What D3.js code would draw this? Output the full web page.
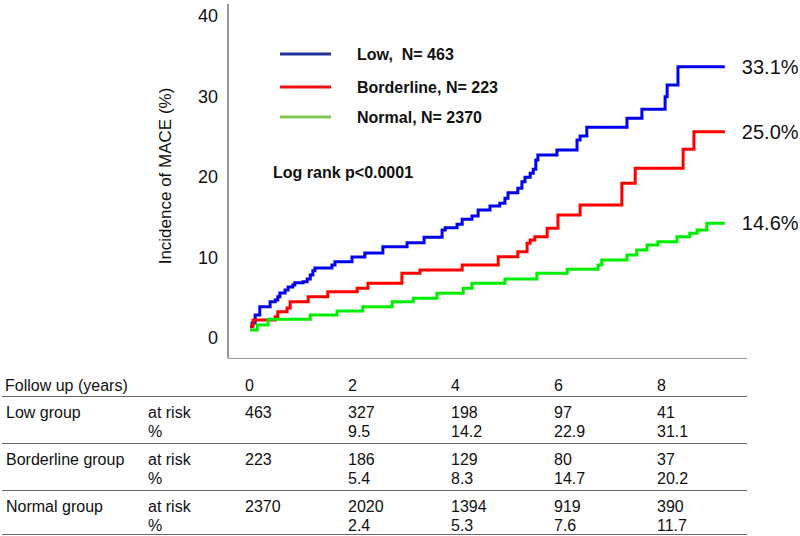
<!DOCTYPE html>
<html>
<head>
<meta charset="utf-8">
<script src="https://cdn.jsdelivr.net/npm/d3@7"></script>
<style>
  body { margin: 0; background: #fff; }
  svg { display: block; font-family: "Liberation Sans", Arial, sans-serif; }
</style>
</head>
<body>
<div id="chart"></div>
<script>
// cumulative incidence step curves: [year, %]
const lowCurve = [[0,1.4],[0.04,1.86],[0.1,2.86],[0.19,3.89],[0.39,4.51],[0.49,4.72],[0.54,5.13],[0.58,5.59],
  [0.68,5.96],[0.74,6.34],[0.83,6.58],[0.87,6.87],[1.03,6.99],[1.11,7.33],[1.17,7.83],[1.22,8.36],[1.26,8.7],
  [1.59,9.07],[1.65,9.48],[1.98,10.06],[2.23,10.56],[2.58,11.34],[3.05,11.84],[3.38,12.51],[3.73,13.42],
  [3.79,13.7],[4.02,14.12],[4.12,14.75],[4.31,15.16],[4.43,15.9],[4.66,16.4],[4.85,16.73],[4.95,17.35],
  [5.01,18.05],[5.2,18.6],[5.28,19.42],[5.34,19.96],[5.44,20.46],[5.5,20.96],[5.55,22.11],[5.59,22.73],
  [5.96,23.35],[6.35,24.6],[6.41,25.09],[6.54,26.17],[7.32,27.29],[7.61,28.41],[8.06,29.98],[8.1,31.43],
  [8.31,33.7]];
const borderlineCurve = [[0,1.49],[0.06,2.24],[0.49,2.65],[0.54,3.27],[0.72,3.73],[0.78,4.51],[1.13,5.13],
  [1.51,5.75],[2.08,6.17],[2.29,6.8],[2.95,8.04],[3.3,8.45],[4.12,9.07],[4.82,10.1],[5.2,10.72],[5.38,11.76],
  [5.44,12.17],[5.53,12.58],[5.77,13.63],[5.98,15.28],[6.41,16.52],[7.22,19.22],[7.48,21.08],[8.41,23.44],
  [8.62,25.63]];
const normalCurve = [[0,1.0],[0.14,1.61],[0.35,2.32],[1.17,2.86],[1.69,3.35],[2.19,3.89],[2.76,4.51],
  [3.17,4.93],[3.63,5.55],[4.14,6.17],[4.31,6.8],[4.95,7.33],[5.57,8.04],[6.16,8.53],[6.76,9.07],[6.83,9.69],
  [7.32,10.31],[7.51,10.93],[7.71,11.55],[7.92,11.96],[8.29,12.58],[8.54,13.01],[8.68,13.42],[8.87,14.25]];
const endYear = 9.22;

const seriesNames = ["Low,  N= 463", "Borderline, N= 223", "Normal, N= 2370"];
const finalLabels = ["33.1%", "25.0%", "14.6%"];
const yTicks = [0, 10, 20, 30, 40];

// number-at-risk table
const followYears = [0, 2, 4, 6, 8];
const tableGroups = ["Low group", "Borderline group", "Normal group"];
const lowAtRisk = [463, 327, 198, 97, 41];
const lowPct = ["", "9.5", "14.2", "22.9", "31.1"];
const borderlineAtRisk = [223, 186, 129, 80, 37];
const borderlinePct = ["", "5.4", "8.3", "14.7", "20.2"];
const normalAtRisk = [2370, 2020, 1394, 919, 390];
const normalPct = ["", "2.4", "5.3", "7.6", "11.7"];

const curveColors = ["#0000ee", "#ff0000", "#00ee00"];
const legendColors = ["#1f3399", "#ee1111", "#80c850"];

const W = 800, H = 536;
const svg = d3.select("#chart").append("svg").attr("width", W).attr("height", H);

const x = d3.scaleLinear().domain([0, 10]).range([250, 765]);
const y = d3.scaleLinear().domain([0, 40]).range([338, 16]);

// y axis
svg.append("line").attr("x1", 228).attr("x2", 228).attr("y1", 4).attr("y2", 358)
  .attr("stroke", "#333").attr("stroke-width", 1);
svg.append("line").attr("x1", 228).attr("x2", 747).attr("y1", 358.5).attr("y2", 358.5)
  .attr("stroke", "#999").attr("stroke-width", 1);

const yAxis = svg.append("g").attr("transform", "translate(228,0)")
  .call(d3.axisLeft(y).tickValues(yTicks).tickSize(0).tickPadding(10));
yAxis.select(".domain").remove();
yAxis.selectAll("text").attr("font-size", 18).attr("font-family", "Liberation Sans, Arial, sans-serif").attr("fill", "#111");

svg.append("text")
  .attr("transform", "translate(165,176) rotate(-90)")
  .attr("text-anchor", "middle").attr("dominant-baseline", "central")
  .attr("font-size", 17).attr("fill", "#111")
  .text("Incidence of MACE (%)");

// curves
const line = d3.line().curve(d3.curveStepAfter).x(d => x(d[0])).y(d => y(d[1]));
const curves = [lowCurve, borderlineCurve, normalCurve];
curves.forEach((c, i) => {
  const pts = c.concat([[endYear, c[c.length - 1][1]]]);
  svg.append("path").datum(pts).attr("d", line)
    .attr("fill", "none").attr("stroke", curveColors[i]).attr("stroke-width", 3)
    .attr("stroke-linejoin", "miter");
  svg.append("text")
    .attr("x", x(endYear) + 17).attr("y", y(c[c.length - 1][1]))
    .attr("dominant-baseline", "central").attr("font-size", 20).attr("fill", "#111")
    .text(finalLabels[i]);
});

// legend
const legendY = [54, 87, 117];
seriesNames.forEach((s, i) => {
  svg.append("line").attr("x1", 280).attr("x2", 331).attr("y1", legendY[i]).attr("y2", legendY[i])
    .attr("stroke", legendColors[i]).attr("stroke-width", 3);
  svg.append("text").attr("x", 357).attr("y", legendY[i])
    .attr("dominant-baseline", "central").attr("font-size", 16).attr("font-weight", "bold")
    .attr("fill", "#111").attr("xml:space", "preserve").style("white-space", "pre")
    .text(s);
});
svg.append("text").attr("x", 273).attr("y", 172)
  .attr("dominant-baseline", "central").attr("font-size", 16).attr("font-weight", "bold")
  .attr("fill", "#111").text("Log rank p<0.0001");

// table
const table = svg.append("g").attr("font-size", 16).attr("fill", "#111");
const colX = yr => x(yr) - 5;
table.append("text").attr("x", 5).attr("y", 385).attr("dominant-baseline", "central").text("Follow up (years)");
followYears.forEach(yr => {
  table.append("text").attr("x", colX(yr)).attr("y", 385).attr("dominant-baseline", "central").text(yr);
});

const rowTops = [396, 443, 490];
const rowRisk = [lowAtRisk, borderlineAtRisk, normalAtRisk];
const rowPct = [lowPct, borderlinePct, normalPct];
rowTops.forEach((top, i) => {
  svg.append("line").attr("x1", 2).attr("x2", 747).attr("y1", top + 0.5).attr("y2", top + 0.5)
    .attr("stroke", "#666").attr("stroke-width", 1);
  table.append("text").attr("x", 6).attr("y", top + 16).attr("dominant-baseline", "central").text(tableGroups[i]);
  table.append("text").attr("x", 148).attr("y", top + 16).attr("dominant-baseline", "central").text("at risk");
  table.append("text").attr("x", 148).attr("y", top + 35).attr("dominant-baseline", "central").text("%");
  followYears.forEach((yr, j) => {
    table.append("text").attr("x", colX(yr)).attr("y", top + 16).attr("dominant-baseline", "central").text(rowRisk[i][j]);
    table.append("text").attr("x", colX(yr)).attr("y", top + 35).attr("dominant-baseline", "central").text(rowPct[i][j]);
  });
});
svg.append("line").attr("x1", 2).attr("x2", 747).attr("y1", 534.5).attr("y2", 534.5)
  .attr("stroke", "#666").attr("stroke-width", 1);
</script>
</body>
</html>
